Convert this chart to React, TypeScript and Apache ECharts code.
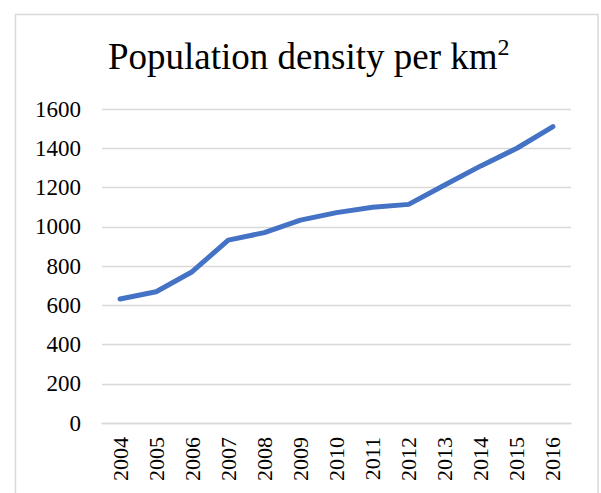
import React, { useEffect, useRef } from "react";
import * as echarts from "echarts";

const years = ["2004", "2005", "2006", "2007", "2008", "2009", "2010", "2011", "2012", "2013", "2014", "2015", "2016"];
const density = [632, 669, 771, 932, 970, 1034, 1072, 1099, 1114, 1213, 1310, 1400, 1510];
const titleMain = "Population density per km";
const titleSup = "2";

export default function App() {
  const ref = useRef<HTMLDivElement>(null);
  useEffect(() => {
    document.body.style.margin = "0";
    const chart = echarts.init(ref.current!, null, { renderer: "svg" });
    const font = "'Liberation Serif', 'Times New Roman', serif";
    chart.setOption({
      animation: false,
      backgroundColor: "#fff",
      title: {
        text: `{a|${titleMain}}{b|${titleSup}}`,
        left: 103,
        top: 30,
        textStyle: {
          fontWeight: "normal",
          rich: {
            a: { fontFamily: font, fontSize: 37, fontWeight: "normal", color: "#000", lineHeight: 42 },
            b: { fontFamily: font, fontSize: 24, fontWeight: "normal", color: "#000", verticalAlign: "top", lineHeight: 26 },
          },
        },
      },
      graphic: [
        {
          type: "rect",
          shape: { x: 15.5, y: 14.5, width: 582.5, height: 500 },
          style: { fill: "none", stroke: "#d9d9d9", lineWidth: 1.5 },
          silent: true,
          z: -1,
        },
      ],
      grid: { left: 102, right: 30, top: 109, bottom: 70, containLabel: false },
      xAxis: {
        type: "category",
        data: years,
        boundaryGap: true,
        axisLine: { show: true, lineStyle: { color: "#d9d9d9", width: 1.3 } },
        axisTick: { show: false },
        axisLabel: { rotate: 90, fontFamily: font, fontSize: 22, color: "#000", margin: 14, interval: 0 },
      },
      yAxis: {
        type: "value",
        min: 0,
        max: 1600,
        interval: 200,
        axisLine: { show: false },
        axisTick: { show: false },
        splitLine: { lineStyle: { color: "#d9d9d9", width: 1.3 } },
        axisLabel: { fontFamily: font, fontSize: 23, color: "#000", margin: 21, formatter: (v: number) => String(v) },
      },
      series: [
        {
          type: "line",
          data: density,
          showSymbol: false,
          lineStyle: { color: "#4472C4", width: 5, cap: "round", join: "round" },
          itemStyle: { color: "#4472C4" },
        },
      ],
    });
    return () => chart.dispose();
  }, []);
  return <div ref={ref} style={{ position: "absolute", left: 0, top: 0, width: 601, height: 493 }} />;
}
